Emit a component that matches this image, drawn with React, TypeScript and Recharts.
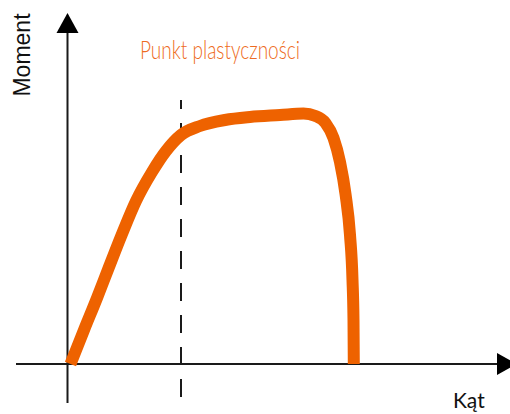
import React from 'react';
import { LineChart, Line, XAxis, YAxis, ReferenceLine, ReferenceDot } from 'recharts';

// Curve (arbitrary units: angle vs moment)
const angle = [0.3, 1.65, 2.95, 4.15, 5.45, 6.85, 8.45, 9.85, 11.35, 13.25, 15.75, 18.25, 21.25, 23.6, 24.8, 25.8, 26.6, 27.25, 27.8, 28.25, 28.5, 28.6, 28.63];
const moment = [0, 3.4, 6.6, 9.7, 13.0, 16.3, 19.2, 21.3, 22.9, 23.8, 24.4, 24.7, 24.9, 25.05, 24.8, 24.1, 22.6, 20.2, 17.0, 12.9, 8.4, 4.4, 0];

const yieldAngle = 11.35;
const xLabel = 'Kąt';
const yLabel = 'Moment';
const yieldLabel = 'Punkt plastyczności';

const data = angle.map((a, i) => ({ x: a, y: moment[i] }));

const W = 510;
const H = 414;
const ORANGE = '#EE6200';
const INK = '#1a1a1a';

// arrow heads drawn at the axis ends
const UpArrow = ({ cx, cy }: any) => (
  <polygon points={`${cx - 11},${cy} ${cx + 11},${cy} ${cx},${cy - 20}`} fill="#000" />
);
const RightArrow = ({ cx, cy }: any) => (
  <polygon points={`${cx},${cy - 11} ${cx},${cy + 11} ${cx + 20},${cy}`} fill="#000" />
);

export default function App() {
  return (
    <div style={{ position: 'relative', width: W, height: H }}>
      <style>{'body{margin:0}'}</style>
      <LineChart width={W} height={H} data={data} margin={{ top: 0, right: 0, bottom: 0, left: 0 }}>
        <XAxis type="number" dataKey="x" domain={[-6.75, 44.25]} hide />
        <YAxis type="number" dataKey="y" domain={[-5, 36.4]} hide />
        <ReferenceLine
          segment={[{ x: -5.15, y: 0 }, { x: 42.95, y: 0 }]}
          stroke={INK}
          strokeWidth={2}
        />
        <ReferenceLine
          segment={[{ x: 0, y: -3.9 }, { x: 0, y: 33.1 }]}
          stroke={INK}
          strokeWidth={2}
        />
        <ReferenceLine
          segment={[{ x: yieldAngle, y: 26.4 }, { x: yieldAngle, y: -3.3 }]}
          stroke={INK}
          strokeWidth={2}
          strokeDasharray="18 14"
          strokeDashoffset={9}
        />
        <ReferenceDot x={0} y={33.1} r={1} shape={UpArrow} />
        <ReferenceDot x={42.95} y={0} r={1} shape={RightArrow} />
        <Line
          type="monotone"
          dataKey="y"
          stroke={ORANGE}
          strokeWidth={12}
          strokeLinecap="butt"
          strokeLinejoin="round"
          dot={false}
          activeDot={false}
          isAnimationActive={false}
        />
      </LineChart>
      <svg width={W} height={H} style={{ position: 'absolute', left: 0, top: 0, pointerEvents: 'none' }}>
        <text
          x={140}
          y={59}
          fontFamily="Lato, 'Open Sans', sans-serif"
          fontWeight={300}
          fontSize={26}
          fill="#EE6B22"
          textLength={160}
          lengthAdjust="spacingAndGlyphs"
        >
          {yieldLabel}
        </text>
        <text
          transform="translate(30,55) rotate(-90)"
          textAnchor="middle"
          fontFamily="'Liberation Sans', Arial, sans-serif"
          fontSize={23}
          fill="#111"
        >
          {yLabel}
        </text>
        <text x={453} y={408} fontFamily="Lato, 'Open Sans', sans-serif" fontSize={21} fill="#111">
          {xLabel}
        </text>
      </svg>
    </div>
  );
}
